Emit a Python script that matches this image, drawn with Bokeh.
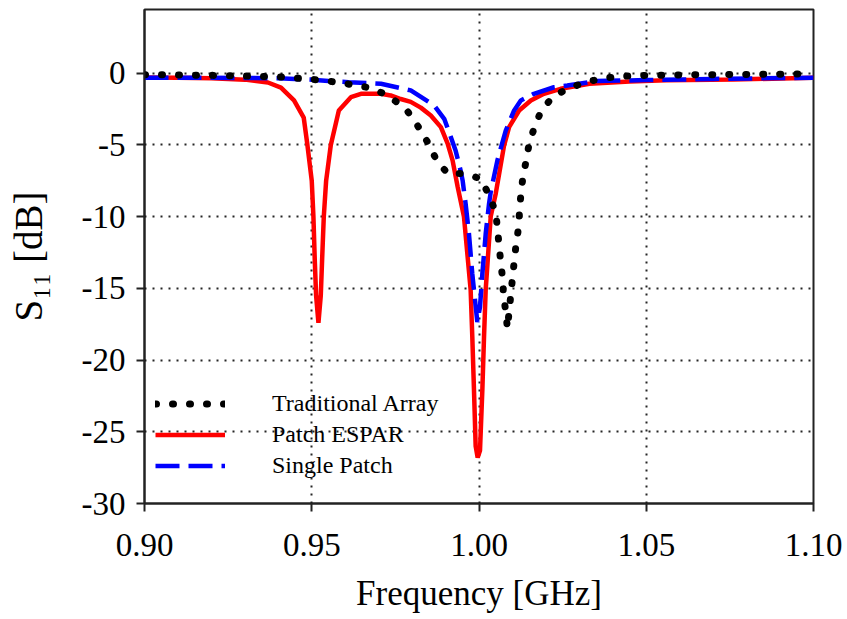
from bokeh.plotting import figure
from bokeh.models import Range1d, FixedTicker, NumeralTickFormatter, Legend, LegendItem
from bokeh.embed import file_html
from bokeh.resources import INLINE

# Traditional Array (black dotted)
trad_f = [0.900, 0.920, 0.940, 0.9536, 0.9638, 0.9683, 0.9730, 0.9781, 0.9816, 0.9846,
          0.9871, 0.9906, 0.9955, 1.0005, 1.0030, 1.0050, 1.0055, 1.0060, 1.0065, 1.0070,
          1.0073, 1.0080, 1.0085, 1.0100, 1.0110, 1.0118, 1.0121, 1.0125, 1.0130, 1.0140,
          1.0149, 1.0164, 1.0184, 1.0219, 1.0264, 1.0319, 1.0364, 1.0414, 1.050, 1.070, 1.100]
trad_db = [-0.10, -0.15, -0.25, -0.50, -0.86, -1.07, -1.60, -2.48, -3.64, -4.80,
           -5.96, -7.00, -7.00, -7.36, -8.50, -9.70, -10.8, -12.0, -13.2, -14.2,
           -15.4, -16.65, -17.8, -14.3, -12.1, -10.8, -9.7, -8.5, -7.5, -6.2,
           -5.04, -3.88, -2.72, -1.67, -1.09, -0.63, -0.39, -0.23, -0.15, -0.10, -0.05]

# Patch ESPAR (red solid)
espar_f = [0.900, 0.910, 0.920, 0.930, 0.9369, 0.9408, 0.9447, 0.9476, 0.9487, 0.9500,
           0.9505, 0.9509, 0.9513, 0.9520, 0.9527, 0.9531, 0.9536, 0.9543, 0.9557, 0.9581,
           0.9617, 0.9647, 0.9707, 0.9736, 0.9766, 0.9796, 0.9826, 0.9856, 0.9886, 0.9906,
           0.9921, 0.9936, 0.9955, 0.9975, 0.9980, 0.9985, 0.9990, 0.9996, 1.0003, 1.0010,
           1.0015, 1.0020, 1.0035, 1.0050, 1.0075, 1.0090, 1.0120, 1.0155, 1.0194, 1.0244,
           1.0330, 1.0450, 1.0560, 1.0760, 1.100]
espar_db = [-0.30, -0.32, -0.36, -0.45, -0.65, -1.00, -1.90, -3.10, -5.00, -7.50,
            -10.0, -13.0, -15.5, -17.4, -15.5, -13.0, -10.0, -7.50, -5.00, -2.60,
            -1.67, -1.44, -1.44, -1.55, -1.80, -2.00, -2.40, -2.95, -3.76, -4.90,
            -6.08, -7.90, -10.0, -15.1, -18.4, -22.1, -26.0, -26.8, -26.3, -22.1,
            -18.4, -15.1, -10.0, -8.40, -5.04, -3.76, -2.60, -1.90, -1.44, -1.09,
            -0.74, -0.58, -0.50, -0.44, -0.32]

# Single Patch (blue dashed)
single_f = [0.900, 0.920, 0.940, 0.950, 0.955, 0.961, 0.9707, 0.9796, 0.9866, 0.9896,
            0.9916, 0.9930, 0.9945, 0.9951, 0.9960, 0.9970, 0.9980, 0.9995, 1.0003, 1.0010,
            1.0020, 1.0030, 1.0035, 1.0055, 1.0080, 1.0105, 1.0125, 1.0164, 1.0224, 1.0264,
            1.035, 1.050, 1.070, 1.100]
single_db = [-0.32, -0.32, -0.35, -0.45, -0.55, -0.63, -0.74, -1.20, -2.25, -3.18,
             -4.46, -5.39, -6.78, -7.47, -9.10, -11.2, -14.0, -17.35, -16.3, -14.0,
             -11.2, -9.10, -8.30, -6.08, -4.00, -2.60, -1.90, -1.44, -0.98, -0.86,
             -0.55, -0.48, -0.40, -0.32]

x_ticks = [0.90, 0.95, 1.00, 1.05, 1.10]
y_ticks = [-30, -25, -20, -15, -10, -5, 0]
y_tick_labels = ["-30", "-25", "-20", "-15", "-10", "-5", "0"]
labels = ["Traditional Array", "Patch ESPAR", "Single Patch"]

FONT = "Liberation Serif"

p = figure(width=847, height=619, output_backend="svg", toolbar_location=None,
           x_range=Range1d(0.9, 1.1), y_range=Range1d(-30, 4.44),
           min_border_left=144, min_border_right=34, min_border_top=9, min_border_bottom=116,
           x_axis_label="Frequency [GHz]", y_axis_label="S\u2081\u2081 [dB]")
p.background_fill_color = "white"
p.border_fill_color = "white"
p.outline_line_color = "#222222"
p.outline_line_width = 2

r_red = p.line(espar_f, espar_db, line_color="#ff0000", line_width=4.5)
r_blue = p.line(single_f, single_db, line_color="#0000ff", line_width=4.5, line_dash="24 9")
r_black = p.line(trad_f, trad_db, line_color="black", line_width=7, line_dash="1 16", line_cap="round")

for ax in (p.xaxis[0], p.yaxis[0]):
    ax.axis_line_width = 2
    ax.axis_line_color = "#222222"
    ax.major_tick_line_width = 2
    ax.major_tick_line_color = "#222222"
    ax.major_tick_out = 8
    ax.major_tick_in = 0
    ax.minor_tick_line_color = None
    ax.major_label_text_font = FONT
    ax.major_label_text_font_size = "33px"
    ax.major_label_text_color = "black"
    ax.axis_label_text_font = FONT
    ax.axis_label_text_font_size = "35px"
    ax.axis_label_text_font_style = "normal"
    ax.axis_label_text_color = "black"

p.xaxis.ticker = FixedTicker(ticks=x_ticks)
p.xaxis.formatter = NumeralTickFormatter(format="0.00")
p.xaxis.major_label_standoff = 22
p.xaxis.axis_label_standoff = 15
p.yaxis.ticker = FixedTicker(ticks=y_ticks)
p.yaxis.major_label_overrides = {t: s for t, s in zip(y_ticks, y_tick_labels)}
p.yaxis.major_label_standoff = 11
p.yaxis.axis_label_text_font_size = "39px"
p.yaxis.axis_label_standoff = 29

p.xgrid.ticker = FixedTicker(ticks=[0.95, 1.00, 1.05])
p.ygrid.ticker = FixedTicker(ticks=[-25, -20, -15, -10, -5, 0])
for g in (p.xgrid[0], p.ygrid[0]):
    g.grid_line_color = "black"
    g.grid_line_width = 2
    g.grid_line_dash = "2 6"
    g.grid_line_alpha = 0.85

legend = Legend(items=[LegendItem(label=labels[0], renderers=[r_black]),
                       LegendItem(label=labels[1], renderers=[r_red]),
                       LegendItem(label=labels[2], renderers=[r_blue])],
                location=(11, 22), orientation="vertical")
legend.border_line_color = None
legend.background_fill_alpha = 0
legend.padding = 0
legend.margin = 0
legend.spacing = 0
legend.glyph_width = 70
legend.glyph_height = 31
legend.label_height = 31
legend.label_standoff = 47
legend.label_text_font = FONT
legend.label_text_font_size = "24px"
legend.label_text_color = "black"
p.add_layout(legend, "center")

open("out.html", "w").write(file_html(p, INLINE))
